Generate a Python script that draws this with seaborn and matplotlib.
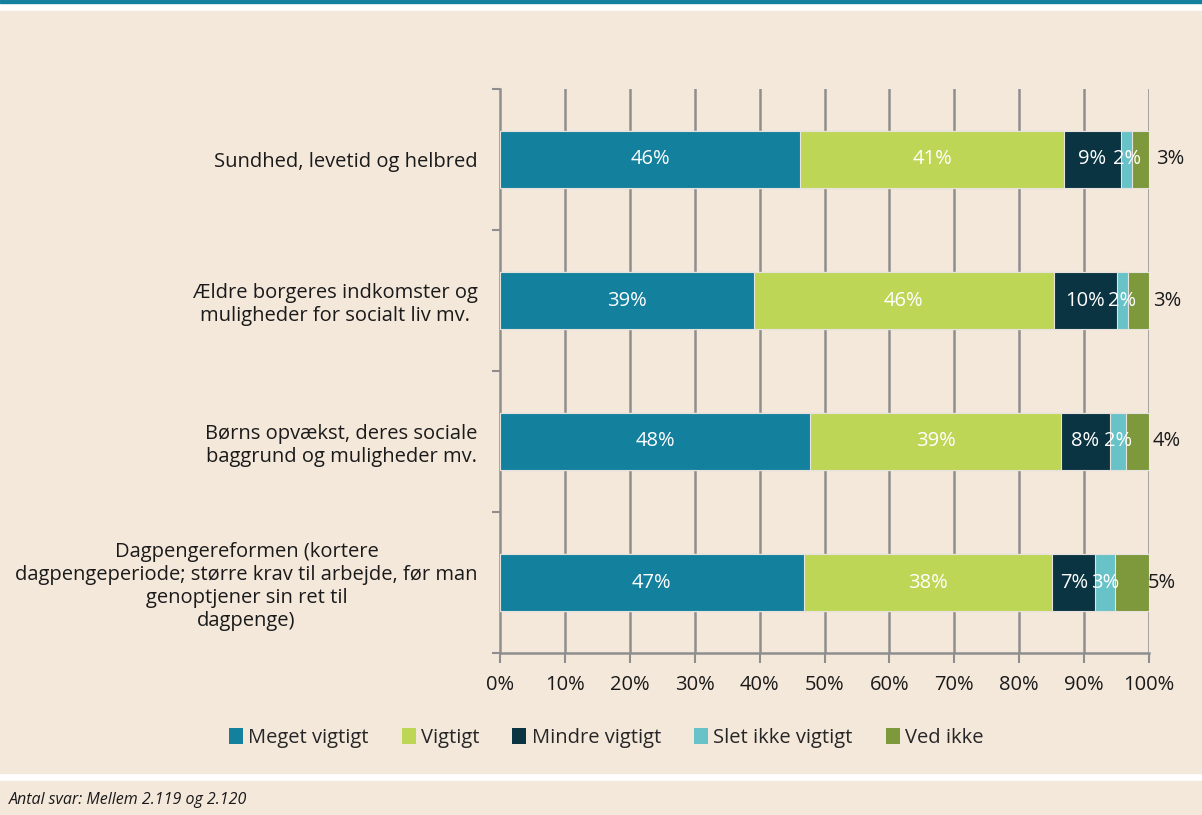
"""Stacked horizontal bar chart: vigtighed af politiske emner."""
import matplotlib
matplotlib.use("Agg")
import matplotlib.pyplot as plt
from matplotlib.patches import Patch, Rectangle
import numpy as np
import pandas as pd
import seaborn as sns

CATEGORIES = [
    "Sundhed, levetid og helbred",
    "Ældre borgeres indkomster og\nmuligheder for socialt liv mv.",
    "Børns opvækst, deres sociale\nbaggrund og muligheder mv.",
    "Dagpengereformen (kortere\ndagpengeperiode; større krav til arbejde, før man\ngenoptjener sin ret til\ndagpenge)",
]
SERIES = ["Meget vigtigt", "Vigtigt", "Mindre vigtigt", "Slet ikke vigtigt", "Ved ikke"]
meget_vigtigt = [46.3, 39.1, 47.8, 46.8]
vigtigt = [40.6, 46.2, 38.6, 38.3]
mindre_vigtigt = [8.8, 9.7, 7.6, 6.6]
slet_ikke = [1.7, 1.7, 2.4, 3.1]
ved_ikke = [2.6, 3.3, 3.6, 5.2]
COLORS = ["#13809e", "#bed656", "#0a3441", "#68c3c8", "#7e983c"]
XTICKS = list(range(0, 101, 10))

BG = "#f4e8db"
GRID = "#8e8e8e"
FONT = ["Open Sans", "DejaVu Sans"]
FS = 14.5

sns.set_theme(style="white")
plt.rcParams["font.family"] = FONT

df = pd.DataFrame(
    {
        "category": CATEGORIES,
        SERIES[0]: meget_vigtigt,
        SERIES[1]: vigtigt,
        SERIES[2]: mindre_vigtigt,
        SERIES[3]: slet_ikke,
        SERIES[4]: ved_ikke,
    }
)
cum = df[SERIES].cumsum(axis=1)
for s in SERIES:
    df[f"cum_{s}"] = cum[s]

fig = plt.figure(figsize=(12.02, 8.15), dpi=100, facecolor="white")
H = 815.0
W = 1202.0
# panel backgrounds
fig.add_artist(Rectangle((0, 1 - 3 / H), 1, 3 / H, transform=fig.transFigure,
                         color="#13809e", zorder=0))
fig.add_artist(Rectangle((0, 1 - 773 / H), 1, (773 - 11) / H, transform=fig.transFigure,
                         color=BG, zorder=0))
fig.add_artist(Rectangle((0, 0), 1, 34 / H, transform=fig.transFigure,
                         color=BG, zorder=0))

ax = fig.add_axes([500 / W, 1 - 653 / H, 649 / W, (653 - 89) / H])
ax.set_facecolor("none")

# overlay cumulative bars, widest first
for s, c in reversed(list(zip(SERIES, COLORS))):
    sns.barplot(data=df, x=f"cum_{s}", y="category", color=c, width=0.4, saturation=1,
                orient="h", ax=ax, edgecolor="#e6e2dc", linewidth=0.8, zorder=3)

ax.set_xlim(0, 100)
ax.set_ylim(len(CATEGORIES) - 0.5, -0.5)
ax.set_xticks(XTICKS)
ax.set_xticklabels([f"{t}%" for t in XTICKS], fontsize=FS, color="#1a1a1a")
ax.set_yticks(range(len(CATEGORIES)))
ax.set_yticklabels(CATEGORIES, fontsize=FS, color="#1a1a1a", multialignment="center")
ax.set_yticks(np.arange(-0.5, len(CATEGORIES)), minor=True)
ax.set_xlabel("")
ax.set_ylabel("")

ax.tick_params(axis="y", which="major", length=0, pad=16)
ax.tick_params(axis="y", which="minor", length=6, width=1.5, color=GRID, left=True)
ax.tick_params(axis="x", which="major", length=7, width=1.5, color=GRID, bottom=True, pad=9)

for x in XTICKS[1:]:
    ax.axvline(x, color=GRID, linewidth=1.8, zorder=1)
for side in ["top", "right"]:
    ax.spines[side].set_visible(False)
for side in ["left", "bottom"]:
    ax.spines[side].set_color(GRID)
    ax.spines[side].set_linewidth(1.8)

# segment labels
for i in range(len(CATEGORIES)):
    start = 0.0
    for j, s in enumerate(SERIES):
        v = df.loc[i, s]
        mid = start + v / 2
        label = f"{round(v)}%"
        if j == len(SERIES) - 1:
            ax.text(mid + 4.5, i, label, ha="center", va="center",
                    fontsize=FS, color="#1a1a1a", zorder=5)
        else:
            ax.text(mid, i, label, ha="center", va="center",
                    fontsize=FS, color="white", zorder=5)
        start += v

handles = [Patch(facecolor=c, edgecolor="none") for c in COLORS]
fig.legend(handles, SERIES, loc="center", bbox_to_anchor=(606 / W, 1 - 738 / H),
           ncol=5, frameon=False, fontsize=FS, handlelength=0.7, handleheight=0.85,
           handletextpad=0.25, columnspacing=1.65)

fig.text(9 / W, 1 - 800 / H, "Antal svar: Mellem 2.119 og 2.120", fontsize=11.5,
         style="italic", color="#1a1a1a", va="center", ha="left")

fig.savefig("out.png", dpi=100, facecolor=fig.get_facecolor())
